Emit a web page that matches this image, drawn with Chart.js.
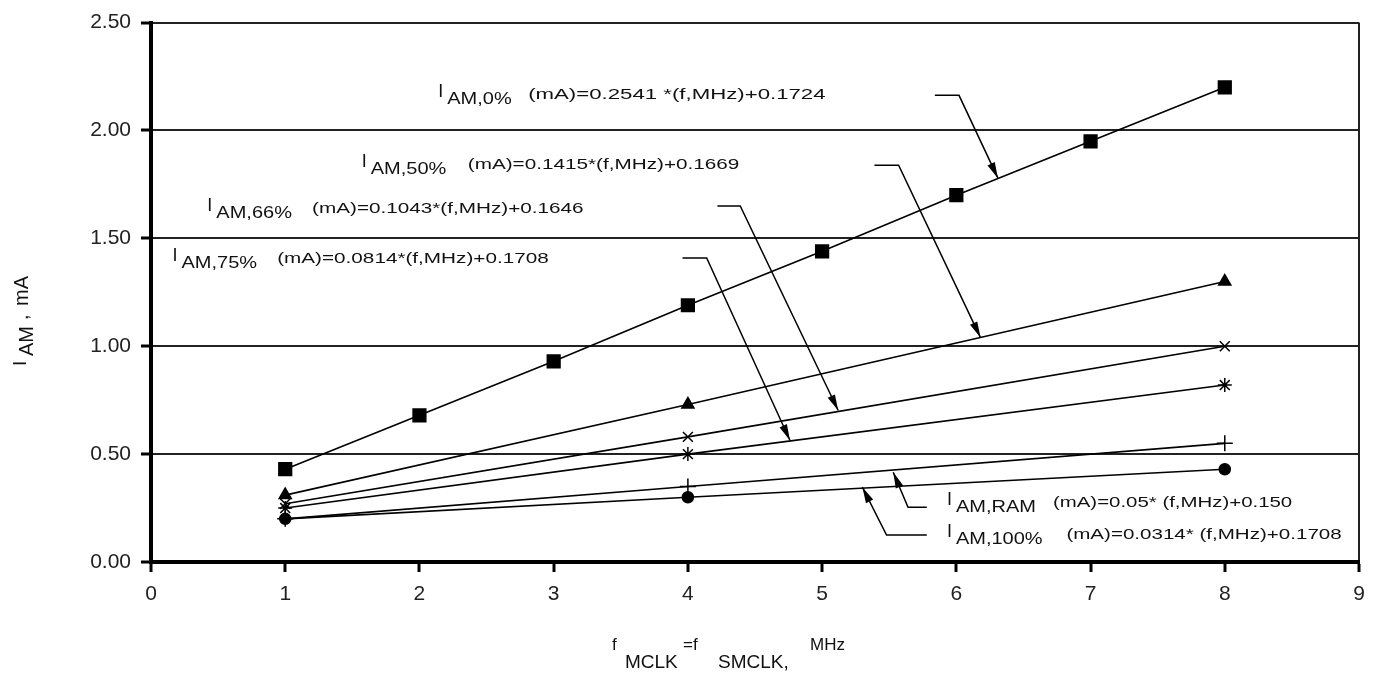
<!DOCTYPE html>
<html>
<head>
<meta charset="utf-8">
<script src="https://cdn.jsdelivr.net/npm/chart.js@4/dist/chart.umd.min.js"></script>
<style>
  html, body { margin: 0; padding: 0; background: #fff; }
</style>
</head>
<body>
<canvas id="chart" width="1377" height="677"></canvas>
<script>
// clock frequency, MHz
var freqAll = [1, 2, 3, 4, 5, 6, 7, 8];
var freqFew = [1, 4, 8];

// active mode current, mA
var iAm0 = [0.43, 0.68, 0.93, 1.19, 1.44, 1.70, 1.95, 2.20];
var iAm50 = [0.31, 0.73, 1.30];
var iAm66 = [0.27, 0.58, 1.00];
var iAm75 = [0.25, 0.50, 0.82];
var iAmRam = [0.20, 0.35, 0.55];
var iAm100 = [0.20, 0.30, 0.43];

var xTicks = [0, 1, 2, 3, 4, 5, 6, 7, 8, 9];
var yTicks = [0, 0.5, 1.0, 1.5, 2.0, 2.5];

var fitSubs = ["AM,0%", "AM,50%", "AM,66%", "AM,75%", "AM,RAM", "AM,100%"];
var fitEquations = [
  "(mA)=0.2541 *(f,MHz)+0.1724",
  "(mA)=0.1415*(f,MHz)+0.1669",
  "(mA)=0.1043*(f,MHz)+0.1646",
  "(mA)=0.0814*(f,MHz)+0.1708",
  "(mA)=0.05* (f,MHz)+0.150",
  "(mA)=0.0314* (f,MHz)+0.1708"
];

// where each fit label and its leader arrow sit, in axis units
var notes = [
  { ix: 2.14, base: 2.144, eqx: 2.81, sx: 1.48, leader: [[5.84, 2.163], [6.02, 2.163], [6.31, 1.779]] },
  { ix: 1.57, base: 1.821, eqx: 2.36, sx: 1.38, leader: [[5.39, 1.839], [5.57, 1.839], [6.18, 1.040]] },
  { ix: 0.42, base: 1.617, eqx: 1.20, sx: 1.38, leader: [[4.22, 1.650], [4.39, 1.650], [5.12, 0.702]] },
  { ix: 0.16, base: 1.386, eqx: 0.94, sx: 1.38, leader: [[3.96, 1.409], [4.14, 1.409], [4.76, 0.564]] },
  { ix: 5.93, base: 0.254, eqx: 6.72, sx: 1.36, leader: [[5.78, 0.254], [5.64, 0.254], [5.53, 0.416]] },
  { ix: 5.93, base: 0.106, eqx: 6.82, sx: 1.37, leader: [[5.78, 0.125], [5.48, 0.125], [5.30, 0.347]] }
];

function toPoints(xs, ys) {
  return xs.map(function(x, i) { return { x: x, y: ys[i] }; });
}

function wideText(ctx, text, x, y, font, sx) {
  ctx.save();
  ctx.font = font;
  ctx.translate(x, y);
  ctx.scale(sx, 1);
  ctx.fillText(text, 0, 0);
  ctx.restore();
}

function arrowHead(ctx, from, to) {
  var ang = Math.atan2(to[1] - from[1], to[0] - from[0]);
  var len = 16, half = 4;
  ctx.save();
  ctx.translate(to[0], to[1]);
  ctx.rotate(ang);
  ctx.beginPath();
  ctx.moveTo(0, 0);
  ctx.lineTo(-len, -half);
  ctx.lineTo(-len, half);
  ctx.closePath();
  ctx.fill();
  ctx.restore();
}

var FONT = "'Liberation Sans', Arial, sans-serif";

var notesPlugin = {
  id: "notes",
  afterDatasetsDraw: function(chart) {
    var ctx = chart.ctx;
    var xs = chart.scales.x, ys = chart.scales.y;
    ctx.save();
    ctx.fillStyle = "#000";
    ctx.strokeStyle = "#000";
    ctx.lineWidth = 1.5;
    ctx.textBaseline = "alphabetic";
    ctx.textAlign = "left";

    notes.forEach(function(n, i) {
      var px = function(p) { return [xs.getPixelForValue(p[0]), ys.getPixelForValue(p[1])]; };
      var pts = n.leader.map(px);
      ctx.fillStyle = "#000";
      ctx.beginPath();
      ctx.moveTo(pts[0][0], pts[0][1]);
      ctx.lineTo(pts[1][0], pts[1][1]);
      ctx.lineTo(pts[2][0], pts[2][1]);
      ctx.stroke();
      arrowHead(ctx, pts[1], pts[2]);

      var x = xs.getPixelForValue(n.ix);
      var b = ys.getPixelForValue(n.base);
      ctx.fillStyle = "#111";
      wideText(ctx, "I", x, b - 2, "18px " + FONT, 1);
      wideText(ctx, fitSubs[i], x + 9, b + 5, "16px " + FONT, 1.25);
      wideText(ctx, fitEquations[i], xs.getPixelForValue(n.eqx), b, "15px " + FONT, n.sx);
    });

    // x axis title
    var cx = (chart.chartArea.left + chart.chartArea.right) / 2;
    ctx.fillStyle = "#111";
    var big = "19px " + FONT;
    var small = "17px " + FONT;
    wideText(ctx, "f", cx - 143, 650, small, 1);
    wideText(ctx, "MCLK", cx - 130, 668, big, 1);
    wideText(ctx, "=f", cx - 72, 650, small, 1);
    wideText(ctx, "SMCLK,", cx - 37, 668, big, 1);
    wideText(ctx, "MHz", cx + 55, 650, small, 1);

    // y axis title, rotated
    ctx.save();
    ctx.translate(28, 366);
    ctx.rotate(-Math.PI / 2);
    wideText(ctx, "I", 0, -2, "19px " + FONT, 1);
    wideText(ctx, "AM", 10, 5, "20px " + FONT, 1);
    wideText(ctx, ",", 46, 0, "20px " + FONT, 1);
    wideText(ctx, "mA", 60, 0, "20px " + FONT, 1);
    ctx.restore();

    ctx.restore();
  }
};

function series(data, style, radius) {
  return {
    data: data,
    borderColor: "#000",
    backgroundColor: "#000",
    borderWidth: 1.6,
    pointStyle: style,
    pointRadius: radius,
    pointBorderWidth: 1.5,
    pointBorderColor: "#000",
    pointBackgroundColor: "#000",
    tension: 0,
    fill: false
  };
}

new Chart(document.getElementById("chart"), {
  type: "line",
  data: {
    datasets: [
      series(toPoints(freqAll, iAm0), "rect", 9),
      series(toPoints(freqFew, iAm50), "triangle", 7),
      series(toPoints(freqFew, iAm66), "crossRot", 7),
      series(toPoints(freqFew, iAm75), "star", 7),
      series(toPoints(freqFew, iAmRam), "cross", 8),
      series(toPoints(freqFew, iAm100), "circle", 5.5)
    ]
  },
  options: {
    responsive: false,
    animation: false,
    devicePixelRatio: 1,
    layout: { padding: { left: 0, top: 21, right: 18, bottom: 0 } },
    plugins: { legend: { display: false }, tooltip: { enabled: false } },
    scales: {
      x: {
        type: "linear",
        min: 0,
        max: 9,
        afterBuildTicks: function(scale) {
          scale.ticks = xTicks.map(function(v) { return { value: v }; });
        },
        afterFit: function(scale) { scale.height = 115; },
        border: { display: true, color: "#000", width: 4 },
        grid: {
          drawOnChartArea: true,
          color: function(c) { return c.tick && c.tick.value === 9 ? "#222" : "rgba(0,0,0,0)"; },
          lineWidth: 2,
          tickColor: "#000",
          tickWidth: 3,
          tickLength: 10
        },
        ticks: {
          color: "#222",
          padding: 10,
          maxRotation: 0,
          font: { family: FONT, size: 21 },
          callback: function(v) { return String(v); }
        }
      },
      y: {
        type: "linear",
        min: 0,
        max: 2.5,
        afterBuildTicks: function(scale) {
          scale.ticks = yTicks.map(function(v) { return { value: v }; });
        },
        afterFit: function(scale) { scale.width = 151; },
        border: { display: true, color: "#000", width: 4 },
        grid: {
          color: "#222",
          lineWidth: 2,
          tickColor: "#000",
          tickWidth: 3,
          tickLength: 10
        },
        ticks: {
          color: "#222",
          padding: 10,
          font: { family: FONT, size: 21 },
          callback: function(v) { return Number(v).toFixed(2); }
        }
      }
    }
  },
  plugins: [notesPlugin]
});
</script>
</body>
</html>
